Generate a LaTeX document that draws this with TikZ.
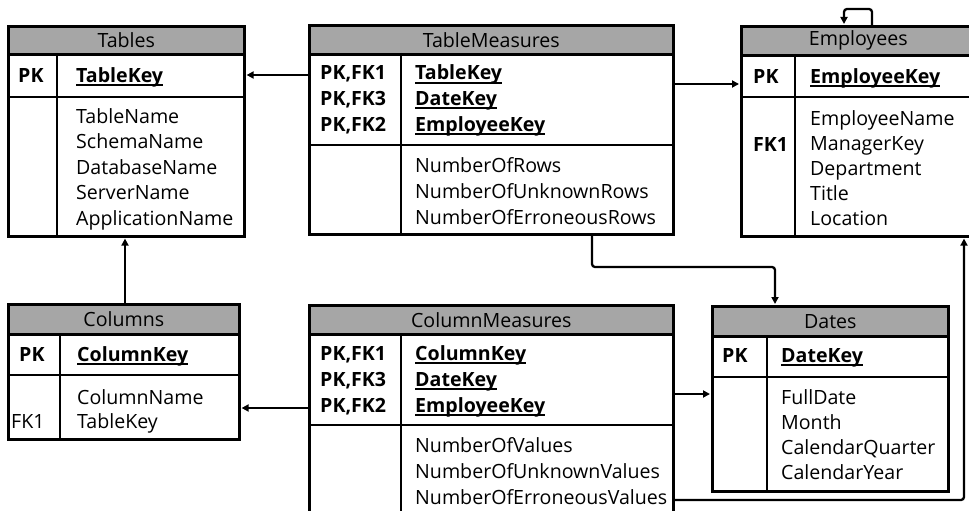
\documentclass[tikz,border=0pt]{standalone}
\usepackage{fontspec}
\setmainfont{Open Sans}
\usetikzlibrary{arrows.meta}
\definecolor{hdrgray}{RGB}{166,166,166}
\newcommand\fs{\fontsize{19.6}{22}\selectfont}
\newcommand\ukey[1]{\setbox0\hbox{#1}\rlap{\rule[-3.6pt]{\wd0}{1.8pt}}\box0}
\tikzset{
  tbl/.style={draw, line width=2.6pt, inner sep=0pt, anchor=north west, fill=white},
  hdr/.style={draw, fill=hdrgray, line width=2.6pt, inner sep=0pt, anchor=north west, font=\fs},
  divider/.style={line width=2.6pt},
  txt/.style={anchor=west, inner sep=0pt, text height=17pt, text depth=3pt, font=\fs},
  keytxt/.style={txt, font=\fs\bfseries},
  conn/.style={line width=2.3pt, -{Triangle[length=7pt,width=7pt]}, rounded corners=3pt, shorten >=1pt}
}
\begin{document}
\begin{tikzpicture}[x=1pt,y=-1pt]
\clip (0,0) rectangle (969,511);
\fill[white] (0,0) rectangle (969,511);

% ---------- Tables ----------
\node[tbl, minimum width=236pt, minimum height=210pt] (tables) at (7,25) {};
\node[hdr, minimum width=236pt, minimum height=28pt] (tablesH) at (7,25) {Tables};
\draw[divider] (7,97) -- (243,97);
\draw[divider] (57,53) -- (57,235);
\node[keytxt] (tablesPK) at (18,75) {PK};
\node[keytxt] (tablesK) at (76,75) {\ukey{TableKey}};
\foreach \t [count=\i from 0] in {TableName,SchemaName,DatabaseName,ServerName,ApplicationName}
  \node[txt] (tablesA\i) at (76,{116+25.6*\i}) {\t};

% ---------- TableMeasures ----------
\node[tbl, minimum width=364pt, minimum height=209pt] (tm) at (308,24) {};
\node[hdr, minimum width=364pt, minimum height=29pt] (tmH) at (308,24) {TableMeasures};
\draw[divider] (308,145) -- (672,145);
\draw[divider] (401,53) -- (401,233);
\foreach \l/\k [count=\i from 0] in {PK{,}FK1/TableKey,PK{,}FK3/DateKey,PK{,}FK2/EmployeeKey}{
  \node[keytxt] (tmL\i) at (320,{73+25.5*\i}) {\l};
  \node[keytxt] (tmK\i) at (415,{73+25.5*\i}) {\ukey{\k}};
}
\foreach \t [count=\i from 0] in {NumberOfRows,NumberOfUnknownRows,NumberOfErroneousRows}
  \node[txt] (tmA\i) at (415,{165+26*\i}) {\t};

% ---------- Employees ----------
\node[tbl, minimum width=234pt, minimum height=210pt] (emp) at (740,25) {};
\node[hdr, minimum width=234pt, minimum height=29pt] (empH) at (740,25) {Employees};
\draw[divider] (740,97) -- (974,97);
\draw[divider] (795,54) -- (795,235);
\node[keytxt] (empPK) at (753,76) {PK};
\node[keytxt] (empK) at (810,76) {\ukey{EmployeeKey}};
\node[keytxt] (empFK) at (753,144) {FK1};
\foreach \t [count=\i from 0] in {EmployeeName,ManagerKey,Department,Title,Location}
  \node[txt] (empA\i) at (810,{118+25*\i}) {\t};

% ---------- Columns ----------
\node[tbl, minimum width=231pt, minimum height=135pt] (cols) at (7,303) {};
\node[hdr, minimum width=231pt, minimum height=30pt] (colsH) at (7,303) {Columns};
\draw[divider] (7,375) -- (238,375);
\draw[divider] (60,333) -- (60,438);
\node[keytxt] (colsPK) at (19,354) {PK};
\node[keytxt] (colsK) at (77,354) {\ukey{ColumnKey}};
\node[txt] (colsFK) at (11,421) {FK1};
\node[txt] (colsA0) at (77,397) {ColumnName};
\node[txt] (colsA1) at (77,421) {TableKey};

% ---------- ColumnMeasures ----------
\node[tbl, minimum width=364pt, minimum height=230pt] (cm) at (308,304) {};
\node[hdr, minimum width=364pt, minimum height=29pt] (cmH) at (308,304) {ColumnMeasures};
\draw[divider] (308,425) -- (672,425);
\draw[divider] (401,333) -- (401,534);
\foreach \l/\k [count=\i from 0] in {PK{,}FK1/ColumnKey,PK{,}FK3/DateKey,PK{,}FK2/EmployeeKey}{
  \node[keytxt] (cmL\i) at (320,{353+26*\i}) {\l};
  \node[keytxt] (cmK\i) at (415,{353+26*\i}) {\ukey{\k}};
}
\foreach \t [count=\i from 0] in {NumberOfValues,NumberOfUnknownValues,NumberOfErroneousValues}
  \node[txt] (cmA\i) at (415,{445+26*\i}) {\t};

% ---------- Dates ----------
\node[tbl, minimum width=236pt, minimum height=185pt] (dates) at (711,305) {};
\node[hdr, minimum width=236pt, minimum height=30pt] (datesH) at (711,305) {Dates};
\draw[divider] (711,377) -- (947,377);
\draw[divider] (767,335) -- (767,490);
\node[keytxt] (datesPK) at (722,355) {PK};
\node[keytxt] (datesK) at (781,355) {\ukey{DateKey}};
\foreach \t [count=\i from 0] in {FullDate,Month,CalendarQuarter,CalendarYear}
  \node[txt] (datesA\i) at (781,{397+25.3*\i}) {\t};

% ---------- Connectors ----------
\coordinate (b1) at (592,267);
\coordinate (b2) at (775,267);
\coordinate (b3) at (964,500);
\coordinate (l1) at (872,9);
\coordinate (l2) at (844,9);

\draw[conn] (tm.west |- 0,75) -- (tables.east |- 0,75);
\draw[conn] (tm.east |- 0,84) -- (emp.west |- 0,84);
\draw[conn] (tm.south -| b1) -- (b1) -- (b2) -- (dates.north -| b2);
\draw[conn] (cols.north -| 125,0) -- (tables.south -| 125,0);
\draw[conn] (cm.west |- 0,408) -- (cols.east |- 0,408);
\draw[conn] (cm.east |- 0,394) -- (dates.west |- 0,394);
\draw[conn] (cm.east |- b3) -- (b3) -- (emp.south -| b3);
\draw[conn] (emp.north -| l1) -- (l1) -- (l2) -- (emp.north -| l2);
\end{tikzpicture}
\end{document}
